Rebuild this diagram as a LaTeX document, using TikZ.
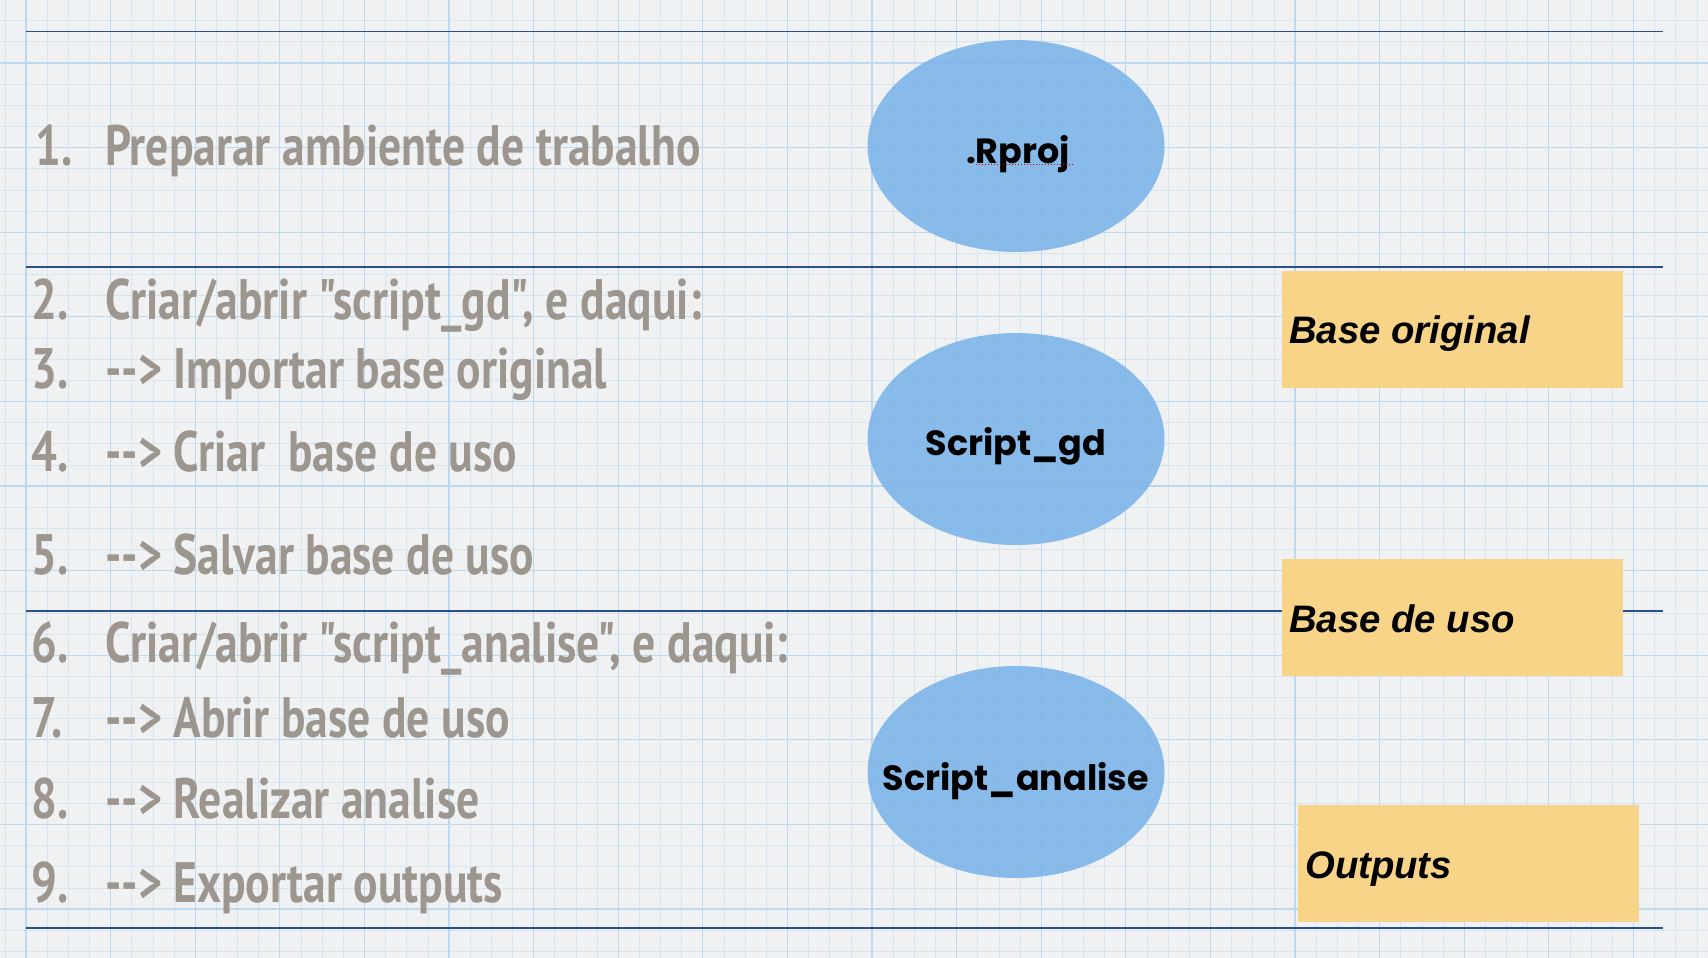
\documentclass[tikz,border=0pt]{standalone}
\usepackage{fontspec}
\newfontfamily\handfont[FakeStretch=0.80]{PT Sans}
\newfontfamily\boxfont{Liberation Sans}
\newfontfamily\elfont{Poppins}
\definecolor{bgc}{RGB}{240,241,242}
\definecolor{minorc}{RGB}{214,229,240}
\definecolor{majorc}{RGB}{190,217,238}
\definecolor{rulec}{RGB}{43,78,140}
\definecolor{ellc}{RGB}{128,182,234}
\definecolor{boxc}{RGB}{247,212,135}
\definecolor{handc}{RGB}{156,150,142}
\newcommand\arr{-\kern0pt-\kern0pt>}
\tikzset{
  hand/.style={inner sep=0pt, anchor=base west, text=handc, font=\handfont\bfseries\fontsize{57}{60}\selectfont},
  ell/.style={ellipse, fill=ellc, fill opacity=0.92, minimum width=297pt, minimum height=212pt, inner sep=0pt},
  elltxt/.style={inner sep=0pt, anchor=base, font=\elfont\bfseries\fontsize{35}{37}\selectfont},
  box/.style={fill=boxc, minimum width=341pt, minimum height=117pt, inner sep=0pt},
  boxtxt/.style={inner sep=0pt, anchor=base west, font=\boxfont\bfseries\itshape\fontsize{38.3}{40}\selectfont},
  rule/.style={draw=rulec, line width=1.4pt}
}
\usetikzlibrary{shapes.geometric}
\begin{document}
\begin{tikzpicture}[x=1pt,y=-1pt]
\useasboundingbox (0,0) rectangle (1708,958);
\fill[bgc] (0,0) rectangle (1708,958);
\foreach \i in {-4,...,80} { \draw[minorc, line width=0.7pt] ({26+\i*21.15},0) -- ++(0,958); }
\foreach \j in {-3,...,43} { \draw[minorc, line width=0.7pt] (0,{63+\j*21.15}) -- ++(1708,0); }
\foreach \i in {0,...,20} { \draw[majorc, line width=1.1pt] ({26+\i*84.6},0) -- ++(0,958); }
\foreach \j in {-1,...,11} { \draw[majorc, line width=1.1pt] (0,{63+\j*84.6}) -- ++(1708,0); }

% rules
\coordinate (r1a) at (26,31.6); \coordinate (r1b) at (1663,31.6);
\coordinate (r2a) at (26,267); \coordinate (r2b) at (1663,267);
\coordinate (r3a) at (26,611); \coordinate (r3b) at (1663,611);
\coordinate (r4a) at (26,928); \coordinate (r4b) at (1663,928);
\draw[rule] (r1a) -- (r1b);
\draw[rule] (r2a) -- (r2b);
\draw[rule] (r3a) -- (r3b);
\draw[rule] (r4a) -- (r4b);

% left texts
\node[hand] (n1) at (35,165) {1.};
\node[hand] (t1) at (105,165) {Preparar ambiente de trabalho};
\node[hand] (n2) at (31,319) {2.};
\node[hand] (t2) at (105,319) {Criar/abrir "script\_gd", e daqui:};
\node[hand] (n3) at (31,388) {3.};
\node[hand] (t3) at (105,388) {\arr{} Importar base original};
\node[hand] (n4) at (31,471) {4.};
\node[hand] (t4) at (105,471) {\arr{} Criar\ \ base de uso};
\node[hand] (n5) at (31,574) {5.};
\node[hand] (t5) at (105,574) {\arr{} Salvar base de uso};
\node[hand] (n6) at (31,662) {6.};
\node[hand] (t6) at (105,662) {Criar/abrir "script\_analise", e daqui:};
\node[hand] (n7) at (31,737) {7.};
\node[hand] (t7) at (105,737) {\arr{} Abrir base de uso};
\node[hand] (n8) at (31,818) {8.};
\node[hand] (t8) at (105,818) {\arr{} Realizar analise};
\node[hand] (n9) at (31,902) {9.};
\node[hand] (t9) at (105,902) {\arr{} Exportar outputs};

% ellipses
\node[ell] (rproj) at (1016,146) {};
\node[elltxt] (rprojt) at (1018,163) {.Rproj};
\coordinate (ula) at (976,164); \coordinate (ulb) at (1074,164);
\draw[red!80!black, line width=1pt, dotted] (ula) -- (ulb);
\node[ell] (sgd) at (1016,439) {};
\node[elltxt] (sgdt) at (1016,455) {Script\_gd};
\node[ell] (san) at (1016,772) {};
\node[elltxt] (sant) at (1016,790) {Script\_analise};

% boxes
\node[box] (bo) at (1452.5,329.5) {};
\node[boxtxt] (bot) at (1289,343) {Base original};
\node[box] (bu) at (1452.5,617.5) {};
\node[boxtxt] (but) at (1289,632) {Base de uso};
\node[box] (out) at (1468.5,863.5) {};
\node[boxtxt] (outt) at (1305,878) {Outputs};
\end{tikzpicture}
\end{document}
